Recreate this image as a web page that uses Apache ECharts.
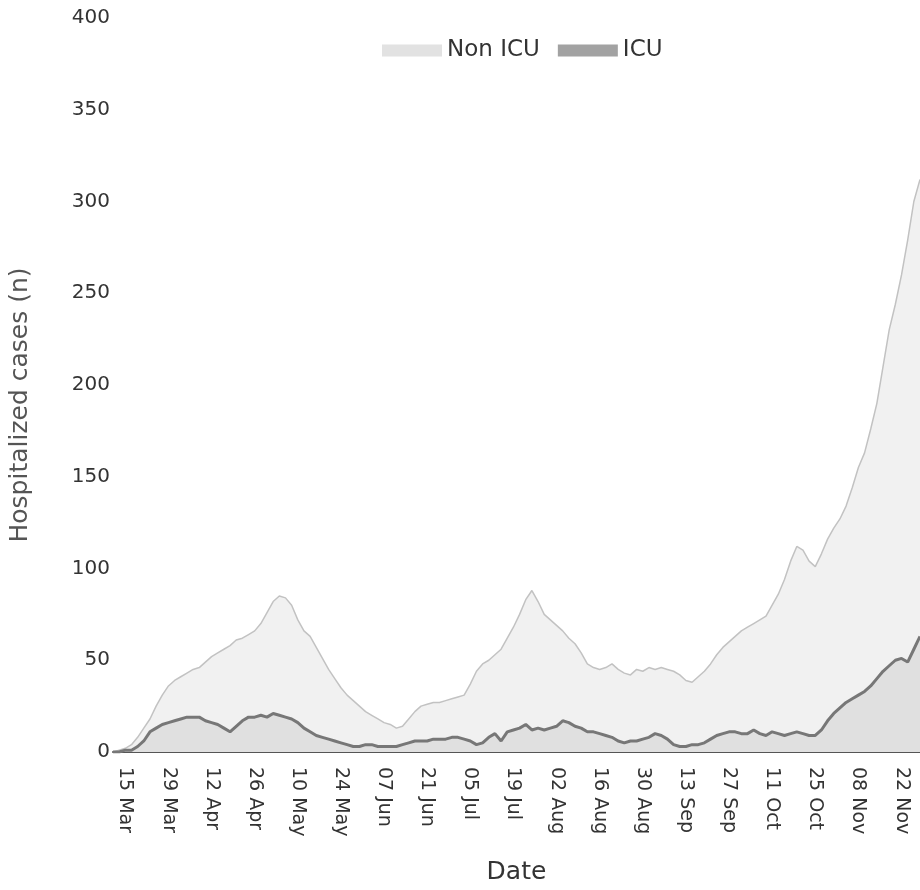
<!DOCTYPE html>
<html>
<head>
<meta charset="utf-8">
<script src="https://cdn.jsdelivr.net/npm/echarts@6/dist/echarts.min.js"></script>
<style>
  html, body { margin: 0; padding: 0; background: #fff; }
  #chart { width: 920px; height: 890px; }
</style>
</head>
<body>
<div id="chart"></div>
<script>
// Data: one point every 2 days, starting 11 Mar 2020
const startYear = 2020, startMonth = 2, startDay = 11, stepDays = 2;

const nonIcu = [
  0, 1, 2, 4, 8, 13, 18, 25, 31, 36,
  39, 41, 43, 45, 46, 49, 52, 54, 56, 58,
  61, 62, 64, 66, 70, 76, 82, 85, 84, 80,
  72, 66, 63, 57, 51, 45, 40, 35, 31, 28,
  25, 22, 20, 18, 16, 15, 13, 14, 18, 22,
  25, 26, 27, 27, 28, 29, 30, 31, 37, 44,
  48, 50, 53, 56, 62, 68, 75, 83, 88, 82,
  75, 72, 69, 66, 62, 59, 54, 48, 46, 45,
  46, 48, 45, 43, 42, 45, 44, 46, 45, 46,
  45, 44, 42, 39, 38, 41, 44, 48, 53, 57,
  60, 63, 66, 68, 70, 72, 74, 80, 86, 94,
  104, 112, 110, 104, 101, 108, 116, 122, 127, 134,
  144, 155, 163, 176, 190, 210, 230, 244, 260, 279,
  300, 312
];

const icu = [
  0, 0, 1, 1, 3, 6, 11, 13, 15, 16,
  17, 18, 19, 19, 19, 17, 16, 15, 13, 11,
  14, 17, 19, 19, 20, 19, 21, 20, 19, 18,
  16, 13, 11, 9, 8, 7, 6, 5, 4, 3,
  3, 4, 4, 3, 3, 3, 3, 4, 5, 6,
  6, 6, 7, 7, 7, 8, 8, 7, 6, 4,
  5, 8, 10, 6, 11, 12, 13, 15, 12, 13,
  12, 13, 14, 17, 16, 14, 13, 11, 11, 10,
  9, 8, 6, 5, 6, 6, 7, 8, 10, 9,
  7, 4, 3, 3, 4, 4, 5, 7, 9, 10,
  11, 11, 10, 10, 12, 10, 9, 11, 10, 9,
  10, 11, 10, 9, 9, 12, 17, 21, 24, 27,
  29, 31, 33, 36, 40, 44, 47, 50, 51, 49,
  56, 63
];

const tickLabels = [
  '15 Mar', '29 Mar', '12 Apr', '26 Apr', '10 May', '24 May', '07 Jun',
  '21 Jun', '05 Jul', '19 Jul', '02 Aug', '16 Aug', '30 Aug', '13 Sep',
  '27 Sep', '11 Oct', '25 Oct', '08 Nov', '22 Nov'
];

const monthNames = ['Jan','Feb','Mar','Apr','May','Jun','Jul','Aug','Sep','Oct','Nov','Dec'];
const categories = nonIcu.map((_, i) => {
  const d = new Date(Date.UTC(startYear, startMonth, startDay + i * stepDays));
  return String(d.getUTCDate()).padStart(2, '0') + ' ' + monthNames[d.getUTCMonth()];
});

const FONT = 'DejaVu Sans';
const chart = echarts.init(document.getElementById('chart'));
chart.setOption({
  animation: false,
  backgroundColor: '#ffffff',
  textStyle: { fontFamily: FONT },
  legend: {
    left: 377,
    top: 34,
    icon: 'rect',
    itemWidth: 60,
    itemHeight: 12,
    itemGap: 18,
    textStyle: { fontFamily: FONT, fontSize: 23, color: '#333' },
    data: [
      { name: 'Non ICU', itemStyle: { color: '#e2e2e2' } },
      { name: 'ICU', itemStyle: { color: '#a2a2a2' } }
    ]
  },
  grid: { left: 104, right: -4, top: 18, bottom: 132, containLabel: false },
  xAxis: {
    type: 'category',
    boundaryGap: false,
    data: categories,
    axisLine: { lineStyle: { color: '#555', width: 2 } },
    axisTick: { show: false },
    axisLabel: {
      rotate: -90,
      interval: (idx, val) => tickLabels.includes(val),
      fontFamily: FONT,
      fontSize: 19,
      color: '#333',
      margin: 15
    },
    name: 'Date',
    nameLocation: 'middle',
    nameGap: 108,
    nameTextStyle: { fontFamily: FONT, fontSize: 25, color: '#333' }
  },
  yAxis: {
    type: 'value',
    min: 0,
    max: 400,
    interval: 50,
    splitLine: { show: false },
    axisLine: { show: false },
    axisTick: { show: false },
    axisLabel: { fontFamily: FONT, fontSize: 20, color: '#333', margin: 3 },
    name: 'Hospitalized cases (n)',
    nameLocation: 'middle',
    nameGap: 80,
    nameTextStyle: { fontFamily: FONT, fontSize: 25, color: '#555', padding: [0, 40, 0, 0] }
  },
  series: [
    {
      name: 'Non ICU',
      type: 'line',
      data: nonIcu,
      showSymbol: false,
      itemStyle: { color: '#e2e2e2' },
      lineStyle: { color: '#c2c2c2', width: 1.5 },
      areaStyle: { color: '#f1f1f1', opacity: 1 },
      z: 1
    },
    {
      name: 'ICU',
      type: 'line',
      data: icu,
      showSymbol: false,
      itemStyle: { color: '#a2a2a2' },
      lineStyle: { color: '#777', width: 3 },
      areaStyle: { color: '#e0e0e0', opacity: 1 },
      z: 2
    }
  ]
});
</script>
</body>
</html>
